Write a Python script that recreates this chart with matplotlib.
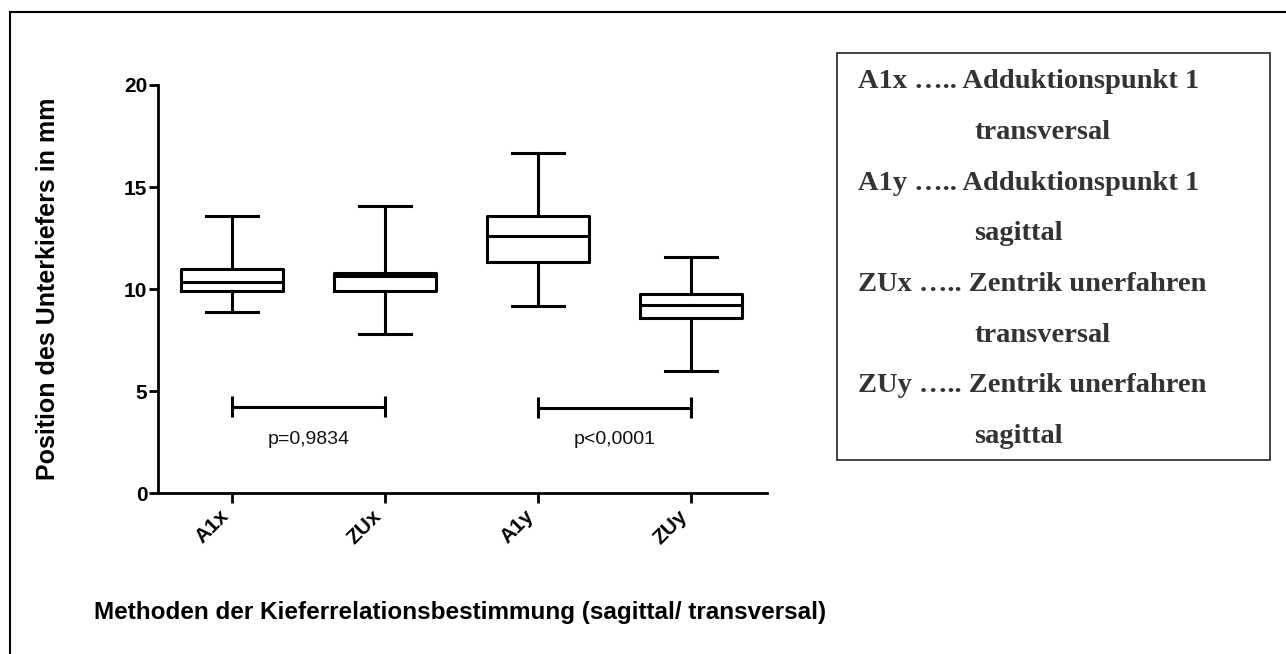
import matplotlib
matplotlib.use("Agg")
import matplotlib.pyplot as plt
from matplotlib.lines import Line2D
from matplotlib.transforms import ScaledTranslation

# ---- data ----
categories = ["A1x", "ZUx", "A1y", "ZUy"]
whislo = [8.87, 7.79, 9.17, 6.0]
q1 = [9.92, 9.92, 11.35, 8.61]
med = [10.36, 10.62, 12.58, 9.22]
q3 = [10.98, 10.81, 13.56, 9.75]
whishi = [13.59, 14.08, 16.65, 11.58]

compare_pairs = [(1, 2), (3, 4)]
compare_y = [4.25, 4.2]
compare_labels = ["p=0,9834", "p<0,0001"]
compare_label_y = [2.65, 2.65]

yticks = [0, 5, 10, 15, 20]
legend_lines = [
    ("A1x ….. Adduktionspunkt 1", "transversal"),
    ("A1y ….. Adduktionspunkt 1", "sagittal"),
    ("ZUx ….. Zentrik unerfahren", "transversal"),
    ("ZUy ….. Zentrik unerfahren", "sagittal"),
]

W, H = 1286, 654
fig = plt.figure(figsize=(W / 100, H / 100), dpi=100)
ax = fig.add_axes([157.7 / W, 1 - 493.3 / H, (766.7 - 157.7) / W, (493.3 - 85) / H])

stats = []
for i, c in enumerate(categories):
    stats.append(dict(label=c, whislo=whislo[i], q1=q1[i], med=med[i],
                      q3=q3[i], whishi=whishi[i], fliers=[]))

lw = 2.2
ax.bxp(stats, positions=range(1, len(categories) + 1), widths=0.667,
       showfliers=False,
       boxprops=dict(color="black", linewidth=lw),
       medianprops=dict(color="black", linewidth=lw),
       whiskerprops=dict(color="black", linewidth=lw),
       capprops=dict(color="black", linewidth=lw),
       capwidths=0.34)

# comparison brackets
for (a, b), yv, lab, ly in zip(compare_pairs, compare_y, compare_labels, compare_label_y):
    ax.plot([a, b], [yv, yv], color="black", lw=lw, solid_capstyle="butt")
    for xx in (a, b):
        ax.plot([xx, xx], [yv - 0.5, yv + 0.5], color="black", lw=lw,
                solid_capstyle="butt")
    ax.text((a + b) / 2, ly, lab, ha="center", va="center", fontsize=14,
            family="Liberation Sans", color="#111111")

ax.set_xlim(0.514, 4.495)
ax.set_ylim(0, 20)
ax.set_yticks(yticks)
ax.set_yticklabels([str(t) for t in yticks], fontsize=15, fontweight="bold",
                   family="Liberation Sans")
ax.set_xticks(range(1, len(categories) + 1))
ax.set_xticklabels(categories, rotation=45, ha="right", va="top",
                   fontsize=15, fontweight="bold", family="Liberation Sans")
offset = ScaledTranslation(6 / 100, 0, fig.dpi_scale_trans)
for lbl in ax.get_xticklabels():
    lbl.set_transform(lbl.get_transform() + offset)
ax.tick_params(axis="y", length=6.5, width=2, pad=1)
ax.tick_params(axis="x", length=7.5, width=2, pad=2)
for s in ("top", "right"):
    ax.spines[s].set_visible(False)
for s in ("left", "bottom"):
    ax.spines[s].set_linewidth(2)

fig.text(48 / W, 1 - 289 / H, "Position des Unterkiefers in mm", rotation=90,
         ha="center", va="center", fontsize=18, fontweight="bold",
         family="Liberation Sans")
fig.text(460 / W, 1 - 612 / H,
         "Methoden der Kieferrelationsbestimmung (sagittal/ transversal)",
         ha="center", va="center", fontsize=17.5, fontweight="bold",
         family="Liberation Sans")

# outer frame (left + top)
fig.add_artist(Line2D([10 / W, 10 / W], [0, 1 - 12 / H], transform=fig.transFigure,
                      color="black", lw=1.5))
fig.add_artist(Line2D([10 / W, 1], [1 - 12 / H, 1 - 12 / H], transform=fig.transFigure,
                      color="black", lw=1.5))

# legend box
bx0, bx1, by0, by1 = 836.7, 1270, 52.7, 460
fig.add_artist(plt.Rectangle((bx0 / W, 1 - by1 / H), (bx1 - bx0) / W, (by1 - by0) / H,
                             transform=fig.transFigure, fill=False,
                             edgecolor="#222222", lw=1.2))
y0, dy = 81.7, 50.7
for k, (main, sub) in enumerate(legend_lines):
    ya = y0 + 2 * k * dy
    yb = ya + dy
    fig.text(858.3 / W, 1 - ya / H, main, ha="left", va="center", fontsize=20.5,
             fontweight="bold", family="Liberation Serif", color="#333333")
    fig.text(974.3 / W, 1 - yb / H, sub, ha="left", va="center", fontsize=20.5,
             fontweight="bold", family="Liberation Serif", color="#333333")

fig.savefig("out.png", dpi=100)
